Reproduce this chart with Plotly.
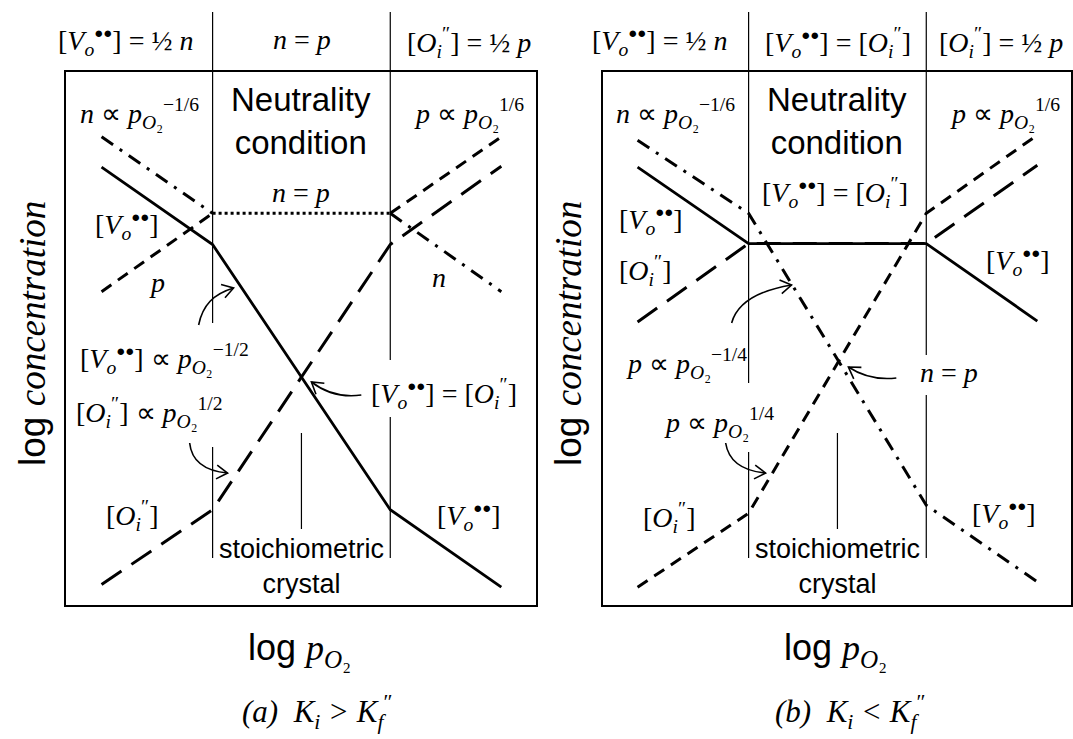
import math
import plotly.graph_objects as go

W, H = 1073, 739
SERIF = "Liberation Serif, Times New Roman, serif"
SANS = "Liberation Sans Narrow, Liberation Sans, Arial, sans-serif"

# break points along log pO2 (diagram units)
x_nodes = [-2.25, -1.0, 1.0, 2.25]

# (a) K_i > K_f''  -- log concentrations at the break points
a_vo = [2.37, 1.50, -1.48, -2.35]
a_oi = [-2.32, -1.48, 1.50, 2.38]
a_n_left = [2.71, 1.85]
a_n_right = [1.85, 0.97]
a_p_left = [0.97, 1.85]
a_p_right = [1.85, 2.71]
a_np = [1.85, 1.85]

# (b) K_i < K_f''
b_vo = [2.37, 1.51, 1.51, 0.64]
b_oi = [0.63, 1.51, 1.51, 2.39]
b_n = [2.67, 1.85, -1.43, -2.29]
b_p = [-2.35, -1.52, 1.85, 2.73]

SOLID = dict(color="black", width=2.8)
LONG = dict(color="black", width=3, dash="24px,12px")
SHORT = dict(color="black", width=3, dash="12px,8px")
DASHDOT = dict(color="black", width=3, dash="14px,8px,3px,8px")
DOTTED = dict(color="black", width=3, dash="3px,3px")

fig = go.Figure()


def line(xs, ys, style, panel):
    fig.add_trace(go.Scatter(x=xs, y=ys, mode="lines", line=style,
                             xaxis="x" if panel == 0 else "x2",
                             yaxis="y" if panel == 0 else "y2",
                             hoverinfo="skip", showlegend=False))


# panel (a)
line(x_nodes, a_oi, LONG, 0)
line(x_nodes, a_vo, SOLID, 0)
line(x_nodes[:2], a_n_left, DASHDOT, 0)
line(x_nodes[2:], a_n_right, DASHDOT, 0)
line(x_nodes[:2], a_p_left, SHORT, 0)
line(x_nodes[2:], a_p_right, SHORT, 0)
line(x_nodes[1:3], a_np, DOTTED, 0)

# panel (b)
line(x_nodes, b_oi, LONG, 1)
line(x_nodes, b_vo, SOLID, 1)
line(x_nodes, b_n, DASHDOT, 1)
line(x_nodes, b_p, SHORT, 1)


def px(v):
    return v / W


def py(v):
    return 1 - v / H


def axis(rng, dom):
    return dict(range=rng, domain=dom, showline=True, mirror=True,
                linecolor="black", linewidth=2, showgrid=False,
                zeroline=False, showticklabels=False, ticks="",
                fixedrange=True)


ydom = [py(605), py(72)]
yrng = [(378 - 605) / 89, (378 - 72) / 89]

shapes = []


def vseg(xr, xv, y0, y1, w=1.2):
    shapes.append(dict(type="line", xref=xr, yref="paper", x0=xv, x1=xv,
                       y0=py(y0), y1=py(y1), line=dict(color="black", width=w)))


# region dividers
vseg("x", -1, 12, 323); vseg("x", -1, 447, 558)
vseg("x", 1, 12, 360); vseg("x", 1, 417, 558)
vseg("x", 0, 433, 529)
vseg("x2", -1, 12, 383); vseg("x2", -1, 452, 558)
vseg("x2", 1, 12, 355); vseg("x2", 1, 395, 558)
vseg("x2", 0, 433, 529)


def curved_arrow(p0, c1, c2, tip):
    path = "M {},{} C {},{} {},{} {},{}".format(
        px(p0[0]), py(p0[1]), px(c1[0]), py(c1[1]),
        px(c2[0]), py(c2[1]), px(tip[0]), py(tip[1]))
    shapes.append(dict(type="path", xref="paper", yref="paper", path=path,
                       line=dict(color="black", width=1.6)))
    dx, dy = tip[0] - c2[0], tip[1] - c2[1]
    L = math.hypot(dx, dy)
    ux, uy = dx / L, dy / L
    wings = []
    for ang in (math.radians(32), -math.radians(32)):
        wx = ux * math.cos(ang) - uy * math.sin(ang)
        wy = ux * math.sin(ang) + uy * math.cos(ang)
        wings.append((tip[0] - 13 * wx, tip[1] - 13 * wy))
    head = "M {},{} L {},{} L {},{}".format(
        px(wings[0][0]), py(wings[0][1]), px(tip[0]), py(tip[1]),
        px(wings[1][0]), py(wings[1][1]))
    shapes.append(dict(type="path", xref="paper", yref="paper", path=head,
                       line=dict(color="black", width=1.6)))


curved_arrow((199, 325), (203, 305), (214, 294), (234, 288))
curved_arrow((190, 443), (192, 462), (206, 471), (228, 473))
curved_arrow((362, 395), (340, 398), (325, 392), (312, 382))
curved_arrow((733, 323), (738, 305), (757, 291), (793, 285))
curved_arrow((727, 443), (730, 462), (745, 471), (767, 473))
curved_arrow((898, 378), (880, 380), (865, 377), (850, 367))

ann = []


def txt(x, y, s, size=28, family=SERIF, angle=0):
    ann.append(dict(x=px(x), y=py(y), xref="paper", yref="paper", text=s,
                    showarrow=False, xanchor="center", yanchor="middle",
                    textangle=angle, font=dict(family=family, size=size, color="black")))


BUL = "<sup><span style='font-size:15px'>●●</span></sup>"
VO = "[<i>V</i><sub><i>o</i></sub>" + BUL + "]"
OI = "[<i>O</i><sub><i>i</i></sub><sup>″</sup>]"
PO2 = "<i>p</i><sub><i>O</i>₂</sub>"
N, P = "<i>n</i>", "<i>p</i>"

# headers
txt(126, 42, VO + " = ½ " + N)
txt(303, 40, N + " = " + P)
txt(470, 42, OI + " = ½ " + P)
txt(661, 42, VO + " = ½ " + N)
txt(840, 42, VO + " = " + OI)
txt(1003, 42, OI + " = ½ " + P)

for off in (0, 537):
    txt(140 + off, 113, N + " ∝ " + PO2 + "<sup>−1/6</sup>")
    txt(470 + off, 113, P + " ∝ " + PO2 + "<sup>1/6</sup>")
    txt(302 + off, 121, "Neutrality<br>condition", size=33, family=SANS)
    txt(302 + off, 566, "stoichiometric<br>crystal", size=27, family=SANS)
    txt(300 + off, 650, "<span style='font-family:" + SANS + "'>log </span>" + PO2,
        size=36)
    txt(32 + off, 333, "<span style='font-family:" + SANS + "'>log </span><i>concentration</i>",
        size=37, angle=-90)

# panel (a) labels
txt(127, 227, VO)
txt(157, 283, P)
txt(302, 193, N + " = " + P)
txt(440, 277, N)
txt(165, 358, VO + " ∝ " + PO2 + "<sup>−1/2</sup>")
txt(150, 413, OI + " ∝ " + PO2 + "<sup>1/2</sup>")
txt(445, 393, VO + " = " + OI)
txt(133, 515, OI)
txt(470, 517, VO)

# panel (b) labels
txt(837, 193, VO + " = " + OI)
txt(652, 222, VO)
txt(647, 270, OI)
txt(1020, 262, VO)
txt(688, 363, P + " ∝ " + PO2 + "<sup>−1/4</sup>")
txt(720, 422, P + " ∝ " + PO2 + "<sup>1/4</sup>")
txt(951, 372, N + " = " + P)
txt(671, 517, OI)
txt(1006, 515, VO)

# captions
txt(318, 712, "<i>(a)  K<sub>i</sub> > K</i><sub><i>f</i></sub><sup>″</sup>", size=31)
txt(852, 712, "<i>(b)  K<sub>i</sub> < K</i><sub><i>f</i></sub><sup>″</sup>", size=31)

fig.update_layout(
    width=W, height=H, margin=dict(l=0, r=0, t=0, b=0),
    paper_bgcolor="white", plot_bgcolor="white", showlegend=False,
    xaxis=axis([(66 - 302) / 89, (537 - 302) / 89], [px(66), px(537)]),
    yaxis=axis(yrng, ydom),
    xaxis2=axis([(604 - 839) / 89, (1073 - 839) / 89], [px(604), 1.0]),
    yaxis2=axis(yrng, ydom),
    shapes=shapes, annotations=ann,
)
fig.update_layout(xaxis2=dict(anchor="y2"), yaxis2=dict(anchor="x2"))

fig.write_html("out.html")
